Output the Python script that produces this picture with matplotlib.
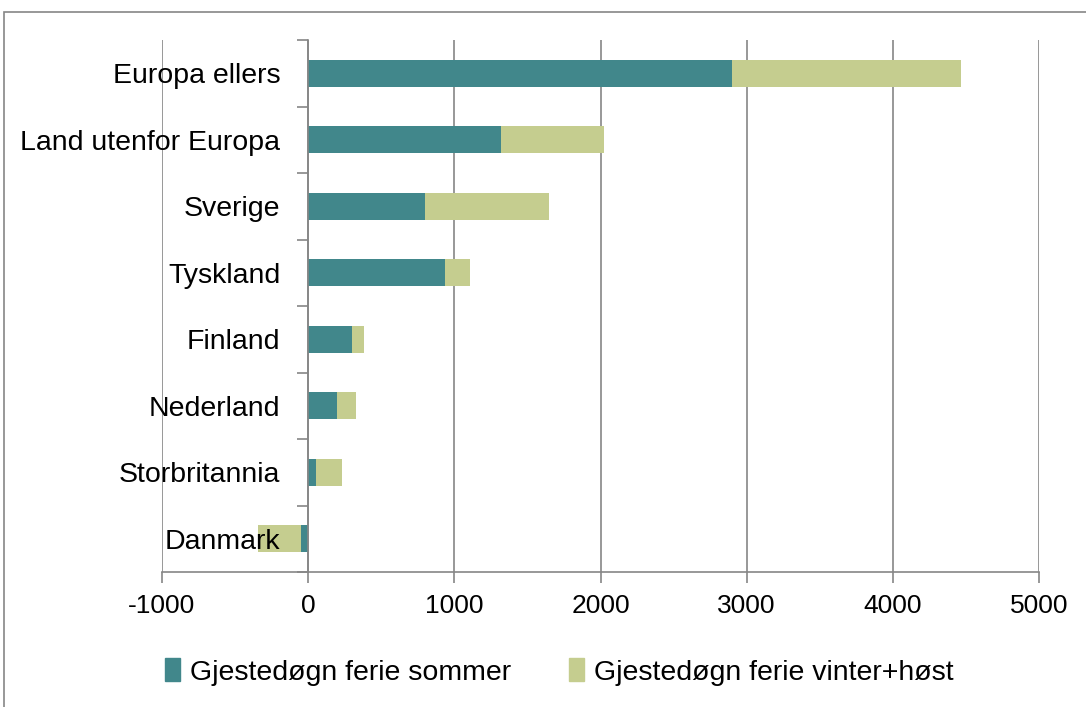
import matplotlib
matplotlib.use('Agg')
import matplotlib.pyplot as plt
import matplotlib.patches as mpatches
from matplotlib import font_manager

categories = ['Danmark', 'Storbritannia', 'Nederland', 'Finland',
              'Tyskland', 'Sverige', 'Land utenfor Europa', 'Europa ellers']
sommer = [-50, 55, 198, 300, 937, 800, 1322, 2901]
vinter_host = [-290, 178, 130, 83, 171, 848, 702, 1563]
series_names = ['Gjestedøgn ferie sommer', 'Gjestedøgn ferie vinter+høst']
xticks = [-1000, 0, 1000, 2000, 3000, 4000, 5000]

TEAL = '#41878B'
LIME = '#C5CD8F'
GRID = '#868686'

names = {f.name for f in font_manager.fontManager.ttflist}
fam = 'Liberation Sans Narrow' if 'Liberation Sans Narrow' in names else 'Liberation Sans'
plt.rcParams['font.family'] = [fam, 'DejaVu Sans']

fig = plt.figure(figsize=(10.86, 7.07), dpi=100)
ax = fig.add_axes([162/1086, 1-572/707, (1039-162)/1086, (572-40)/707])

# negative values stack to the left of the previous segment
y = list(range(len(categories)))
left2 = [s if (s >= 0) == (v >= 0) else 0 for s, v in zip(sommer, vinter_host)]
ax.barh(y, sommer, height=0.4, color=TEAL, zorder=3)
ax.barh(y, vinter_host, left=left2, height=0.4, color=LIME, zorder=3)

ax.set_xlim(-1000, 5000)
ax.set_ylim(-0.5, len(categories) - 0.5)
ax.set_xticks(xticks)
ax.set_xticklabels([str(t) for t in xticks], fontsize=19)
for t in xticks:
    ax.axvline(t, color=GRID, lw=1.2, zorder=1)

ax.spines['top'].set_visible(False)
ax.spines['right'].set_visible(False)
ax.spines['left'].set_position(('data', 0))
ax.spines['left'].set_color(GRID)
ax.spines['left'].set_linewidth(1.2)
ax.spines['left'].set_zorder(4)
ax.spines['bottom'].set_color(GRID)
ax.spines['bottom'].set_linewidth(1.2)

ax.set_yticks([i - 0.5 for i in range(len(categories) + 1)])
ax.set_yticklabels([])
ax.set_yticks(y, minor=True)
ax.set_yticklabels(categories, minor=True, fontsize=20.5)
ax.tick_params(axis='y', which='minor', length=0, pad=20)
ax.tick_params(axis='y', which='major', length=8, width=1.2, color=GRID)
ax.tick_params(axis='x', length=8, width=1.2, color=GRID, pad=8)
ax.yaxis.set_zorder(5)

handles = [mpatches.Patch(color=TEAL, label=series_names[0]),
           mpatches.Patch(color=LIME, label=series_names[1])]
fig.legend(handles=handles, loc='center', bbox_to_anchor=(0.515, 1-672/707),
           ncol=2, frameon=False, fontsize=20.5, handlelength=0.55, handleheight=0.85,
           handletextpad=0.35, columnspacing=2.0)

fig.patches.append(mpatches.Rectangle((4/1086, -0.1), 1.2, 1 - 12/707 + 0.1,
                                      transform=fig.transFigure, fill=False,
                                      edgecolor=GRID, lw=1.2))

plt.savefig('out.png', dpi=100)
